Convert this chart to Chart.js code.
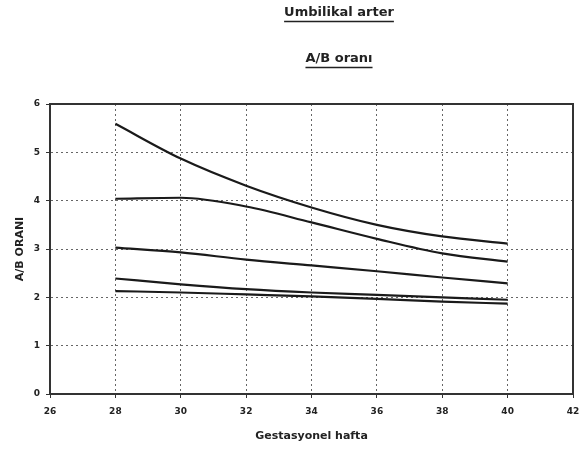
<!DOCTYPE html>
<html>
<head>
<meta charset="utf-8">
<script src="https://cdn.jsdelivr.net/npm/chart.js@4/dist/chart.umd.min.js"></script>
<style>
  html, body { margin: 0; padding: 0; background: #fff; }
  canvas { display: block; }
</style>
</head>
<body>
<canvas id="chart" width="583" height="450"></canvas>
<script>
// Umbilikal arter A/B oranı - gestasyonel haftaya göre eğriler
const weeks = [28, 30, 32, 34, 36, 38, 40];
const curve1 = [5.59, 4.87, 4.31, 3.86, 3.50, 3.26, 3.11];
const curve2 = [4.04, 4.06, 3.88, 3.55, 3.21, 2.91, 2.74];
const curve3 = [3.03, 2.93, 2.78, 2.66, 2.54, 2.41, 2.29];
const curve4 = [2.39, 2.27, 2.17, 2.10, 2.05, 2.00, 1.95];
const curve5 = [2.13, 2.10, 2.06, 2.02, 1.97, 1.91, 1.87];
const titleLines = ['Umbilikal arter', 'A/B oranı'];
const xTitle = 'Gestasyonel hafta';
const yTitle = 'A/B ORANI';

const FONT = '"DejaVu Sans", Arial, sans-serif';

function makeSeries(values) {
    return {
        data: weeks.map((w, i) => ({ x: w, y: values[i] })),
        borderColor: '#1a1a1a',
        borderWidth: 2.2,
        pointRadius: 0,
        fill: false,
        cubicInterpolationMode: 'monotone'
    };
}

// Başlık (altı çizili) ve grafik çerçevesi
const decorPlugin = {
    id: 'decor',
    afterDraw(chart) {
        const ctx = chart.ctx;
        const area = chart.chartArea;
        ctx.save();
        ctx.strokeStyle = '#333';
        ctx.lineWidth = 2;
        ctx.strokeRect(area.left, area.top, area.right - area.left, area.bottom - area.top);

        ctx.fillStyle = '#222';
        ctx.strokeStyle = '#222';
        ctx.lineWidth = 1.5;
        ctx.font = 'bold 13px ' + FONT;
        ctx.textAlign = 'center';
        ctx.textBaseline = 'middle';
        const cx = 339;
        const ys = [13, 59];
        titleLines.forEach((t, i) => {
            ctx.fillText(t, cx, ys[i]);
            const w = ctx.measureText(t).width;
            ctx.beginPath();
            ctx.moveTo(cx - w / 2, ys[i] + 8.5);
            ctx.lineTo(cx + w / 2, ys[i] + 8.5);
            ctx.stroke();
        });
        ctx.restore();
    }
};

const ctx = document.getElementById('chart').getContext('2d');
new Chart(ctx, {
    type: 'line',
    data: {
        datasets: [curve1, curve2, curve3, curve4, curve5].map(makeSeries)
    },
    options: {
        responsive: false,
        animation: false,
        layout: { padding: { top: 104, right: 10, left: 0, bottom: 0 } },
        plugins: {
            legend: { display: false },
            tooltip: { enabled: false }
        },
        scales: {
            x: {
                type: 'linear',
                min: 26,
                max: 42,
                afterFit: s => {
                    s.height = 56;
                    s.paddingRight = 0;
                    s.paddingLeft = 0;
                },
                ticks: {
                    stepSize: 2,
                    color: '#222',
                    font: { family: FONT, size: 9, weight: 'bold' },
                    padding: 8,
                    maxRotation: 0
                },
                grid: {
                    color: '#666',
                    tickBorderDash: [1, 0],
                    tickColor: '#333',
                    tickLength: 4
                },
                border: { display: true, color: '#333', width: 2, dash: [2, 3] },
                title: {
                    display: true,
                    text: xTitle,
                    color: '#222',
                    font: { family: FONT, size: 11, weight: 'bold' },
                    padding: { bottom: 7, top: 0 }
                }
            },
            y: {
                min: 0,
                max: 6,
                afterFit: s => { s.width = 50; },
                ticks: {
                    stepSize: 1,
                    color: '#222',
                    font: { family: FONT, size: 9, weight: 'bold' },
                    padding: 6
                },
                grid: {
                    color: '#666',
                    tickBorderDash: [1, 0],
                    tickColor: '#333',
                    tickLength: 4
                },
                border: { display: true, color: '#333', width: 2, dash: [2, 3] },
                title: {
                    display: true,
                    text: yTitle,
                    color: '#222',
                    font: { family: FONT, size: 11, weight: 'bold' },
                    padding: { top: 14, bottom: 0 }
                }
            }
        }
    },
    plugins: [decorPlugin]
});
</script>
</body>
</html>
